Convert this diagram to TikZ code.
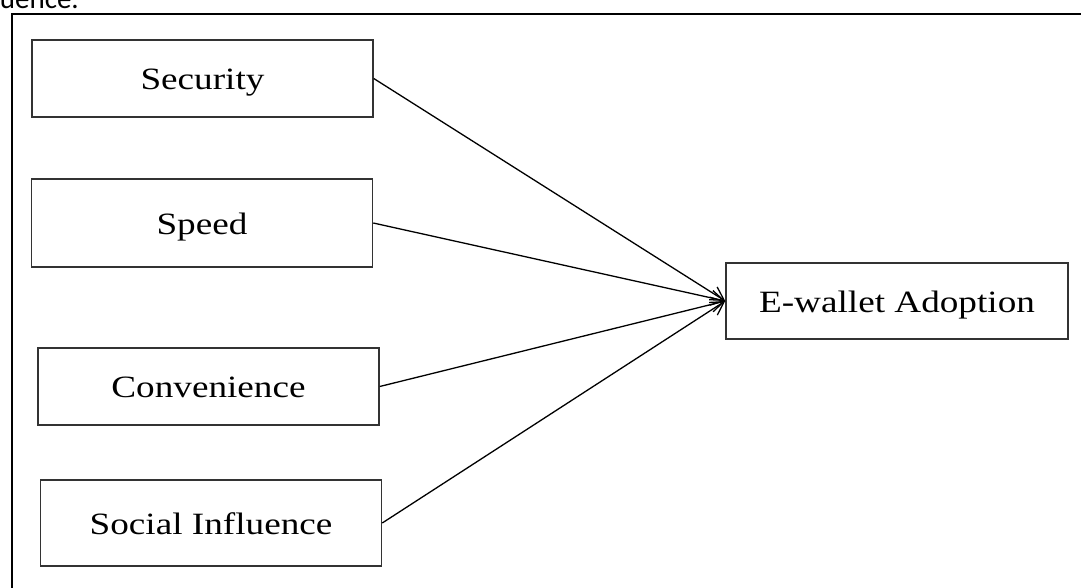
\documentclass[tikz,border=0pt]{standalone}
\usepackage{fontspec}
\setmainfont{Liberation Serif}
\newfontfamily\calib{Carlito}
\usetikzlibrary{arrows.meta}
\newcommand{\wide}[1]{\scalebox{1.2}[1]{#1}}
\tikzset{
  factor/.style={draw=black!80, line width=1.5pt, fill=white, inner sep=0pt,
    minimum width=341pt, minimum height=#1, text height=24pt, text depth=2pt,
    font=\fontsize{31}{37}\selectfont},
  link/.style={draw=black, line width=1.3pt, -{Straight Barb[length=13pt,width=15pt,line width=1.3pt]}}
}
\begin{document}
\begin{tikzpicture}[x=1pt,y=-1pt]
\useasboundingbox (0,0) rectangle (1081,588);
\node[anchor=base east, inner sep=0pt, font=\calib\fontsize{29}{34}\selectfont] (cut) at (79,9) {Influence.};
\draw[line width=2.5pt] (12,14) rectangle (1100,620);
\node[factor=77pt] (sec) at (202.5,78.5) {\wide{Security}};
\node[factor=88pt] (spd) at (202,223) {\wide{Speed}};
\node[factor=77pt] (con) at (208.5,386.5) {\wide{Convenience}};
\node[factor=86pt] (soc) at (211,523) {\wide{Social Influence}};
\node[factor=76pt, minimum width=342pt] (ew) at (897,301) {\wide{E-wallet Adoption}};
\draw[link] (sec.east) -- (ew.west);
\draw[link] (spd.east) -- (ew.west);
\draw[link] (con.east) -- (ew.west);
\draw[link] (soc.east) -- (ew.west);
\end{tikzpicture}
\end{document}
